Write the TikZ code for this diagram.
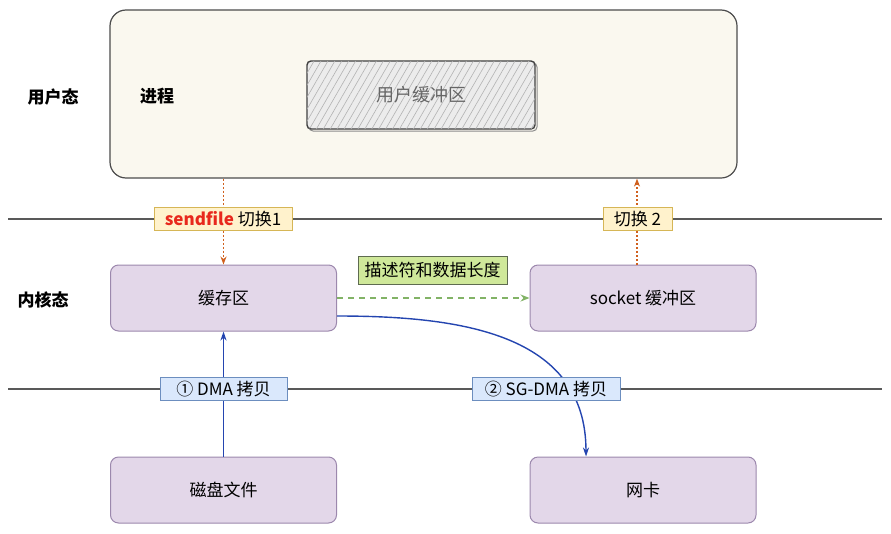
\documentclass[tikz,border=0pt]{standalone}
\usepackage{fontspec}
\setmainfont{Noto Sans CJK SC}
\usetikzlibrary{arrows.meta, patterns.meta, positioning}
\definecolor{procfill}{HTML}{FAF8EF}
\definecolor{boxfill}{HTML}{E3D7E9}
\definecolor{boxline}{HTML}{9C88AD}
\definecolor{tagyfill}{HTML}{FFF2CC}
\definecolor{tagyline}{HTML}{D6B656}
\definecolor{tagbfill}{HTML}{DAE8FC}
\definecolor{tagbline}{HTML}{6C8EBF}
\definecolor{taggfill}{HTML}{CFE89A}
\definecolor{taggline}{HTML}{5E6B50}
\definecolor{switchc}{HTML}{D0601E}
\definecolor{dmac}{HTML}{2445B0}
\definecolor{descc}{HTML}{82B366}
\definecolor{sendc}{HTML}{E8281C}
\tikzset{
x=1pt, y=-1pt, % one unit is one pixel of the figure
txt/.style={font=\fontsize{17}{20}\selectfont}, % default text size
box/.style={txt, draw=boxline, fill=boxfill, line width=1pt, rounded corners=8pt, minimum width=226pt, minimum height=66pt}, % kernel / device boxes
tag/.style={txt, solid, line width=0.9pt, inner sep=1pt, minimum height=23pt}, % labels sitting on the lines
ytag/.style={tag, draw=tagyline, fill=tagyfill},
btag/.style={tag, draw=tagbline, fill=tagbfill},
layer/.style={font=\fontsize{17}{20}\selectfont\bfseries}, % user / kernel mode names
sep/.style={draw=black!65, line width=1.3pt}, % mode separation lines
switch/.style={draw=switchc, line width=1.4pt, dash pattern=on 2pt off 2pt, -{Stealth[length=8pt,width=6pt]}},
dma/.style={draw=dmac, line width=1.4pt, -{Stealth[length=9pt,width=6pt]}},
}

\begin{document}
\begin{tikzpicture}
    \useasboundingbox (0,0) rectangle (891,533);
    % user space
    \node[draw=black!70, fill=procfill, line width=1.2pt, rounded corners=16pt, minimum width=627pt, minimum height=168pt] (proc) at (423.5,94) {};
    \node[layer] (user) at (53,97) {用户态};
    \node[layer] (procname) at (157,96) {进程};
    \node[font=\fontsize{18}{21}\selectfont, text=black!60, draw=black!75, line width=1.4pt, rounded corners=4pt, fill=gray!15,
      preaction={draw=black!45, line width=1pt, transform canvas={shift={(2pt,-2pt)}}},
      postaction={pattern={Lines[angle=60,distance=6pt,line width=0.6pt]}, pattern color=gray!60},
      minimum width=228pt, minimum height=68pt] (ubuf) at (421,95) {用户缓冲区};
    % separation lines
    \coordinate (l1w) at (8,219);
    \coordinate (l1e) at (882,219);
    \coordinate (l2w) at (8,389);
    \coordinate (l2e) at (882,389);
    \draw[sep] (l1w) -- (l1e);
    \draw[sep] (l2w) -- (l2e);
    % kernel space
    \node[layer] (kernel) at (43,300) {内核态};
    \node[box] (cache) at (223.5,298) {缓存区};
    \node[box] (sock) at (643,298) {socket 缓冲区};
    \node[box] (disk) at (223.5,490) {磁盘文件};
    \node[box] (nic) at (643,490) {网卡};
    % switches
    \draw[switch] (proc.south -| cache.north) -- (cache.north);
    \draw[switch] ([xshift=-6pt]sock.north) -- ([xshift=-6pt]sock.north |- proc.south);
    \node[ytag, minimum width=138pt] (sw1) at (223,219) {\textbf{\color{sendc}sendfile} 切换1};
    \node[ytag, minimum width=69pt] (sw2) at (637.5,219) {切换 2};
    % descriptor
    \draw[draw=descc, line width=1.3pt, dash pattern=on 6pt off 5pt, -{Stealth[length=9pt,width=7pt]}] (cache.east) -- (sock.west);
    \node[tag, draw=taggline, fill=taggfill, minimum width=149pt, minimum height=28pt] (desc) at (432.5,270) {描述符和数据长度};
    % copies
    \draw[dma] (disk.north) -- (cache.south);
    \draw[dma] ([yshift=-18pt]cache.east) to[out=0, in=90, looseness=1.1] ([xshift=-57pt]nic.north);
    \node[btag, minimum width=127pt] (dma1) at (223.5,389) {① DMA 拷贝};
    \node[btag, minimum width=148pt] (dma2) at (546,389) {② SG-DMA 拷贝};
\end{tikzpicture}
\end{document}
